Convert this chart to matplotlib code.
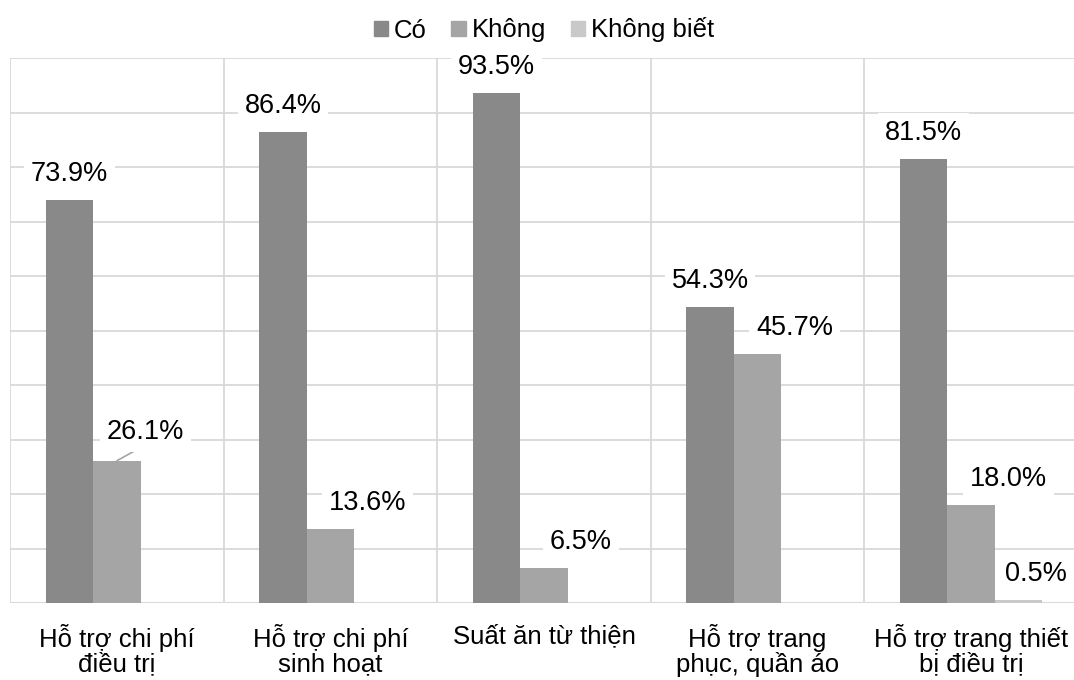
import matplotlib
matplotlib.use("Agg")
import matplotlib.pyplot as plt
from matplotlib.patches import Patch

categories = ["Hỗ trợ chi phí\nđiều trị", "Hỗ trợ chi phí\nsinh hoạt", "Suất ăn từ thiện",
              "Hỗ trợ trang\nphục, quần áo", "Hỗ trợ trang thiết\nbị điều trị"]
series_names = ["Có", "Không", "Không biết"]
co = [73.9, 86.4, 93.5, 54.3, 81.5]
khong = [26.1, 13.6, 6.5, 45.7, 18.0]
khong_biet = [None, None, None, None, 0.5]
colors = ["#898989", "#a5a5a5", "#c9c9c9"]

plt.rcParams['font.family'] = ['Liberation Sans', 'DejaVu Sans']

W, H = 1074, 680
fig = plt.figure(figsize=(W / 100, H / 100), dpi=100)
left_px, right_px, bottom_px, top_px = 10, 10 + 5 * 213.6, 603, 58
ax = fig.add_axes([left_px / W, (H - bottom_px) / H, (right_px - left_px) / W, (bottom_px - top_px) / H])
ax.set_xlim(0, 5)
ax.set_ylim(0, 100)

grid_c = "#d9d9d9"
for y in range(10, 101, 10):
    ax.axhline(y, color=grid_c, lw=1.3, zorder=0)
for x in range(0, 6):
    ax.axvline(x, color=grid_c, lw=1.3, zorder=0)
ax.axhline(0, color=grid_c, lw=1.5, zorder=0.5)

w = 1 / 4.5
series = [co, khong, khong_biet]
label_dx = [0, 37, 17]
fs = 19.5
for s, (vals, col) in enumerate(zip(series, colors)):
    for i, v in enumerate(vals):
        if v is None:
            continue
        xc = i + 0.5 + (s - 1) * w
        ax.bar(xc, v, width=w, color=col, zorder=2)
        txt = f"{v:.1f}%"
        bbox = dict(boxstyle="square,pad=0.25", fc="white", ec="none")
        if s == 1 and i == 0:
            ax.annotate(txt, xy=(xc, v), xytext=(29, 29), textcoords="offset pixels",
                        ha="center", va="center", fontsize=fs, bbox=bbox, zorder=3,
                        arrowprops=dict(arrowstyle="-", color="#a6a6a6", lw=1.2,
                                        shrinkA=0, shrinkB=0, relpos=(0.5, 0)))
        else:
            ax.annotate(txt, xy=(xc, v), xytext=(label_dx[s], 26), textcoords="offset pixels",
                        ha="center", va="center", fontsize=fs, bbox=bbox, zorder=3)

ax.set_xticks([i + 0.5 for i in range(5)])
ax.set_xticklabels(categories, fontsize=18.5, linespacing=1.02, va="top")
ax.tick_params(axis="x", length=0, pad=15)
ax.set_yticks([])
for sp in ax.spines.values():
    sp.set_visible(False)

handles = [Patch(color=c, label=n) for c, n in zip(colors, series_names)]
fig.legend(handles=handles, loc="center", bbox_to_anchor=(544 / W, 1 - 30 / H), ncol=3,
           frameon=False, fontsize=18.5, handlelength=0.55, handleheight=0.55,
           handletextpad=0.25, columnspacing=0.95)

fig.savefig("out.png", dpi=100)
